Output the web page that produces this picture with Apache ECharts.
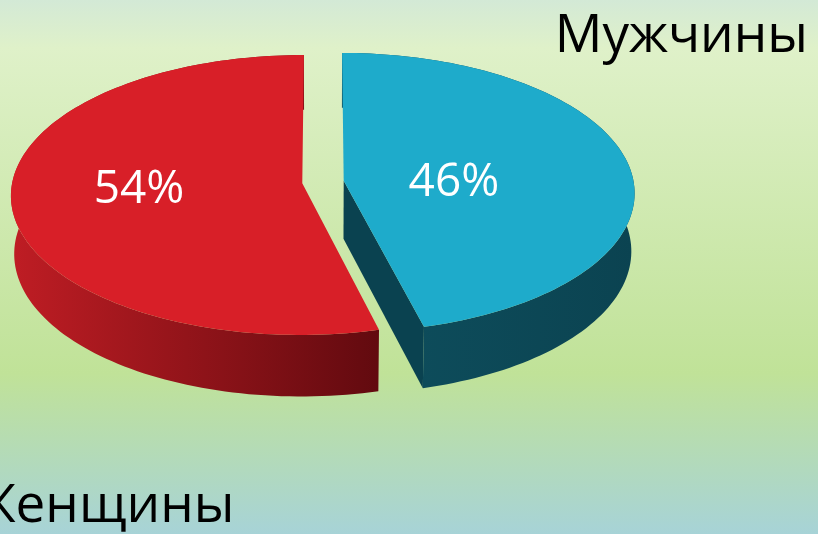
<!DOCTYPE html>
<html>
<head>
<meta charset="utf-8">
<script src="https://cdn.jsdelivr.net/npm/echarts@6/dist/echarts.min.js"></script>
<style>
  html, body { margin: 0; padding: 0; }
  #chart { width: 818px; height: 534px; }
</style>
</head>
<body>
<div id="chart"></div>
<script>
// данные
const slices = ['Женщины', 'Мужчины']
const shares = [54, 46]

// оформление срезов
const topColors = ['#d81f28', '#1eabcb']
const wallColors = [['#bf1d24', '#620a0f'], ['#0e4f5e', '#0b4351']]
const faceColors = ['#7a0d12', '#0a4250']
// положение подписей относительно центра среза (в единицах радиуса)
const labelPos = [[-0.56, -0.045], [0.38, -0.012]]

// псевдо-3D проекция круга
const CX = 323, CY = 182
const F = 3030, D = 10.45
const SIN_E = 0.4785, COS_E = 0.878
const H = 0.23          // толщина
const EXPLODE = 0.072   // вынос срезов

function proj(X, Z, Y) {
  const w = D + Z * COS_E - Y * SIN_E
  return [CX + F * X / w, CY - F * (Z * SIN_E + Y * COS_E) / w]
}

function renderItem(params, api) {
  const i = params.dataIndex
  const total = shares.reduce((a, b) => a + b, 0)
  let start = 90
  for (let k = 0; k < i; k++) start += shares[k] / total * 360
  const end = start + api.value(0) / total * 360
  const mid = (start + end) / 2 * Math.PI / 180
  const ox = EXPLODE * Math.cos(mid)
  const oz = EXPLODE * Math.sin(mid)
  const P = (r, deg, y) => {
    const a = deg * Math.PI / 180
    return proj(ox + r * Math.cos(a), oz + r * Math.sin(a), y)
  }

  const top = [], bot = []
  const n = Math.ceil((end - start) / 1.5)
  for (let j = 0; j <= n; j++) {
    const d = start + (end - start) * j / n
    top.push(P(1, d, 0))
    bot.push(P(1, d, -H))
  }

  const children = []
  // боковые грани среза (только видимые)
  ;[[start, start - 90], [end, end + 90]].forEach(([d, nd]) => {
    if (Math.sin(nd * Math.PI / 180) < -0.01) {
      children.push({
        type: 'polygon',
        shape: { points: [P(0, d, 0), P(1, d, 0), P(1, d, -H), P(0, d, -H)] },
        style: { fill: faceColors[i] }
      })
    }
  })
  // внешняя стенка
  children.push({
    type: 'polygon',
    shape: { points: top.concat(bot.slice().reverse()) },
    style: {
      fill: new echarts.graphic.LinearGradient(0, 0, 1, 0, [
        { offset: 0, color: wallColors[i][0] },
        { offset: 1, color: wallColors[i][1] }
      ])
    }
  })
  // верх
  children.push({
    type: 'polygon',
    shape: { points: [P(0, 0, 0)].concat(top) },
    style: { fill: topColors[i] }
  })
  // подпись
  const lp = proj(ox + labelPos[i][0], oz + labelPos[i][1], 0)
  children.push({
    type: 'text',
    style: {
      text: api.value(0) + '%',
      x: lp[0],
      y: lp[1],
      fill: '#ffffff',
      font: '46px "Open Sans"',
      align: 'center',
      verticalAlign: 'middle'
    }
  })
  return { type: 'group', children }
}

const chart = echarts.init(document.getElementById('chart'))
chart.setOption({
  backgroundColor: new echarts.graphic.LinearGradient(0, 0, 0, 1, [
    { offset: 0, color: '#d3e9d6' },
    { offset: 0.09, color: '#dff1c9' },
    { offset: 0.7, color: '#c0e298' },
    { offset: 1, color: '#a7d3d7' }
  ]),
  animation: false,
  graphic: [
    {
      type: 'text',
      right: 10,
      top: 10,
      style: {
        text: 'Мужчины',
        fill: '#000',
        font: '53px "Open Sans"'
      }
    },
    {
      type: 'text',
      left: -29,
      top: 480,
      style: {
        text: 'Женщины',
        fill: '#000',
        font: '53px "Open Sans"'
      }
    }
  ],
  series: [
    {
      type: 'custom',
      coordinateSystem: 'none',
      renderItem: renderItem,
      data: shares.map((v, i) => ({ name: slices[i], value: [v] }))
    }
  ]
})
</script>
</body>
</html>
